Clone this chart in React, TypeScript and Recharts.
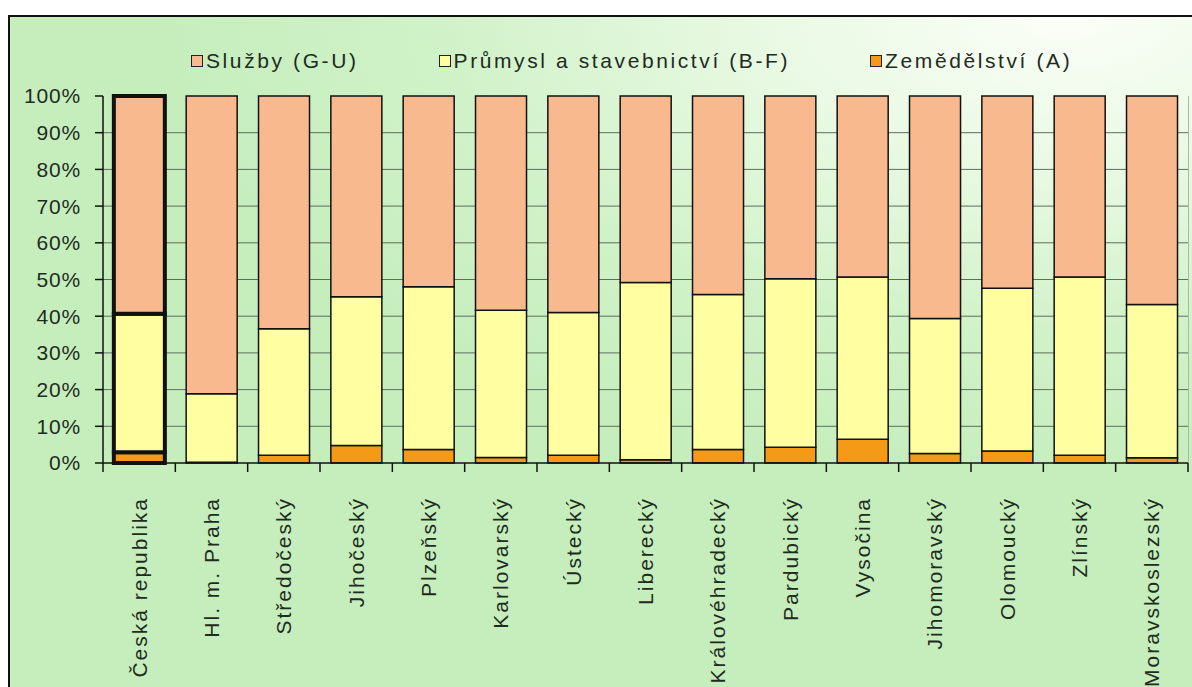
import { BarChart, Bar, XAxis, YAxis, CartesianGrid, Cell } from "recharts";

// Podíl zaměstnaných podle sektorů (%), kraje ČR
const KRAJE = [
  "Česká republika", "Hl. m. Praha", "Středočeský", "Jihočeský", "Plzeňský",
  "Karlovarský", "Ústecký", "Liberecký", "Královéhradecký", "Pardubický",
  "Vysočina", "Jihomoravský", "Olomoucký", "Zlínský", "Moravskoslezský",
];
const ZEMEDELSTVI = [2.9, 0.2, 2.1, 4.8, 3.7, 1.5, 2.1, 0.9, 3.7, 4.3, 6.5, 2.6, 3.3, 2.1, 1.4];
const PRUMYSL = [37.8, 18.7, 34.5, 40.5, 44.3, 40.1, 38.9, 48.3, 42.2, 45.9, 44.2, 36.8, 44.3, 48.6, 41.8];
const SLUZBY = [59.3, 81.1, 63.4, 54.7, 52.0, 58.4, 59.0, 50.8, 54.1, 49.8, 49.3, 60.6, 52.4, 49.3, 56.8];
const Y_TICKS = [0, 10, 20, 30, 40, 50, 60, 70, 80, 90, 100];
const GRID_VALUES = [10, 20, 30, 40, 50, 60, 70, 80, 90];

const SERIES = [
  { key: "zem", name: "Zemědělství (A)", color: "#F59A16" },
  { key: "prum", name: "Průmysl a stavebnictví (B-F)", color: "#FFFFA2" },
  { key: "sluz", name: "Služby (G-U)", color: "#F8B98F" },
];
const LEGEND_ORDER = ["sluz", "prum", "zem"];

const FONT = '"Liberation Sans", Arial, sans-serif';
const TEXT = "#1f2b1f";

const data = KRAJE.map((k, i) => ({
  name: k,
  zem: ZEMEDELSTVI[i],
  prum: PRUMYSL[i],
  sluz: SLUZBY[i],
}));

function XTick(props: any) {
  const { x, y, payload, index, width } = props;
  const band = width / KRAJE.length;
  return (
    <g>
      <line x1={x - band / 2} x2={x - band / 2} y1={y - 8} y2={y + 1} stroke="#111" strokeWidth={1.5} />
      {index === KRAJE.length - 1 && (
        <line x1={x + band / 2} x2={x + band / 2} y1={y - 8} y2={y + 1} stroke="#111" strokeWidth={1.5} />
      )}
      <text
        x={x}
        y={y + 26}
        transform={`rotate(-90, ${x}, ${y + 26})`}
        textAnchor="end"
        dy="0.36em"
        fill={TEXT}
        fontSize={21}
        fontFamily={FONT}
        letterSpacing={2}
      >
        {payload.value}
      </text>
    </g>
  );
}

export default function App() {
  return (
    <div style={{ position: "absolute", left: 0, top: 0, width: 1192, height: 687, overflow: "hidden", background: "#fff" }}>
      <div
        style={{
          position: "absolute", left: 8, top: 15, width: 1200, height: 700,
          borderTop: "2px solid #111", borderLeft: "2px solid #111",
          background: "radial-gradient(ellipse 75% 65% at 88% 0%, #fbfef8 0%, #e8f9e2 35%, #d0f2c8 70%, #c6eebd 100%)",
        }}
      />
      <div style={{ position: "absolute", left: 1188, top: 96, width: 1, height: 367, background: "#a9b8a9" }} />
      <div
        style={{
          position: "absolute", left: 191, top: 49, display: "flex", gap: 80,
          fontFamily: FONT, fontSize: 21, letterSpacing: 2.6, color: TEXT, whiteSpace: "nowrap",
        }}
      >
        {LEGEND_ORDER.map((k) => {
          const s = SERIES.find((d) => d.key === k)!;
          return (
            <div key={k} style={{ display: "flex", alignItems: "center" }}>
              <span style={{ width: 10, height: 10, background: s.color, border: "1.5px solid #222", marginRight: 3, display: "inline-block" }} />
              <span>{s.name}</span>
            </div>
          );
        })}
      </div>
      <div style={{ position: "absolute", left: 0, top: 0 }}>
        <BarChart
          width={1192}
          height={687}
          data={data}
          margin={{ top: 96, right: 4, bottom: 0, left: 0 }}
          barCategoryGap="15%"
        >
          <CartesianGrid
            vertical={false}
            stroke="#5d6e5d"
            strokeWidth={1}
            horizontalCoordinatesGenerator={({ offset }: any) =>
              GRID_VALUES.map((v) => offset.top + offset.height * (1 - v / 100))
            }
          />
          <XAxis
            dataKey="name"
            interval={0}
            height={224}
            tickLine={false}
            axisLine={{ stroke: "#111", strokeWidth: 1.5 }}
            tick={<XTick />}
          />
          <YAxis
            width={103}
            domain={[0, 100]}
            ticks={Y_TICKS}
            tickFormatter={(v: number) => `${v}%`}
            tickSize={8}
            tickMargin={14}
            axisLine={{ stroke: "#111", strokeWidth: 1.5 }}
            tickLine={{ stroke: "#111", strokeWidth: 1.5 }}
            tick={{ fill: TEXT, fontSize: 21, fontFamily: FONT, letterSpacing: 0.8 }}
          />
          {SERIES.map((s) => (
            <Bar
              key={s.key}
              dataKey={s.key}
              name={s.name}
              stackId="a"
              fill={s.color}
              stroke="#111"
              strokeWidth={1.5}
              isAnimationActive={false}
            >
              {data.map((_, i) => (
                <Cell key={i} strokeWidth={i === 0 ? 4 : 1.5} />
              ))}
            </Bar>
          ))}
        </BarChart>
      </div>
    </div>
  );
}
